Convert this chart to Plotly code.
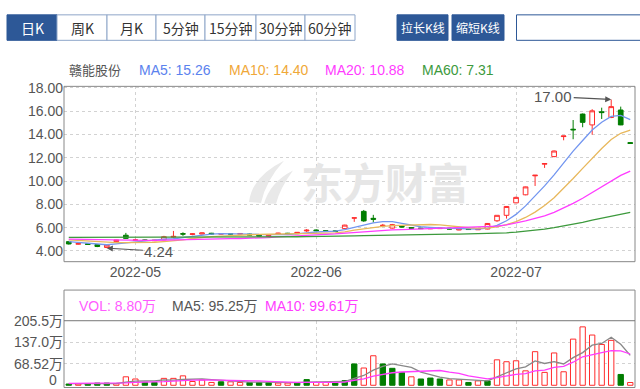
import plotly.graph_objects as go

# ---------------- data ----------------
dates = ["2022-04-21","2022-04-22","2022-04-25","2022-04-26","2022-04-27","2022-04-28","2022-04-29",
         "2022-05-05","2022-05-06","2022-05-09","2022-05-10","2022-05-11","2022-05-12","2022-05-13",
         "2022-05-16","2022-05-17","2022-05-18","2022-05-19","2022-05-20","2022-05-23","2022-05-24",
         "2022-05-25","2022-05-26","2022-05-27","2022-05-30","2022-05-31",
         "2022-06-01","2022-06-02","2022-06-06","2022-06-07","2022-06-08","2022-06-09","2022-06-10",
         "2022-06-13","2022-06-14","2022-06-15","2022-06-16","2022-06-17","2022-06-20","2022-06-21",
         "2022-06-22","2022-06-23","2022-06-24","2022-06-27","2022-06-28","2022-06-29","2022-06-30",
         "2022-07-01","2022-07-04","2022-07-05","2022-07-06","2022-07-07","2022-07-08","2022-07-11",
         "2022-07-12","2022-07-13","2022-07-14","2022-07-15","2022-07-18","2022-07-19"]

opens = [4.80, 4.58, 4.62, 4.55, 4.30, 4.80, 5.35, 4.90, 4.95, 4.88,
         4.95, 5.18, 5.48, 5.42, 5.45, 5.52, 5.45, 5.48, 5.44, 5.45,
         5.36, 5.26, 5.48, 5.52, 5.48, 5.72, 5.80, 5.74, 5.72, 5.92,
         6.82, 7.40, 6.80, 6.18, 5.96, 6.12, 6.00, 5.96, 5.90, 5.92,
         5.95, 5.80, 5.88, 5.82, 5.88, 6.59, 7.06, 8.13, 8.82, 10.45,
         11.45, 12.10, 13.82, 14.45, 15.75, 14.82, 15.95, 15.46, 16.10, 13.30]
highs = [4.86, 4.70, 4.64, 4.57, 4.55, 4.97, 5.55, 5.05, 4.98, 4.95,
         5.30, 5.72, 5.60, 5.52, 5.58, 5.55, 5.52, 5.50, 5.52, 5.48,
         5.38, 5.36, 5.56, 5.55, 5.62, 5.88, 5.85, 5.78, 5.76, 6.25,
         6.84, 7.52, 7.10, 6.32, 6.32, 6.15, 6.02, 5.98, 5.98, 5.98,
         5.96, 5.90, 5.90, 5.88, 6.40, 7.06, 7.85, 8.66, 9.52, 10.52,
         11.52, 12.62, 13.88, 15.24, 15.80, 16.17, 16.30, 17.00, 16.39, 13.35]
lows = [4.55, 4.55, 4.52, 4.33, 4.24, 4.75, 5.05, 4.85, 4.85, 4.85,
        4.92, 5.12, 5.30, 5.35, 5.42, 5.42, 5.42, 5.40, 5.42, 5.32,
        5.24, 5.22, 5.40, 5.45, 5.45, 5.62, 5.70, 5.65, 5.64, 5.88,
        6.50, 6.50, 6.45, 6.16, 5.92, 6.02, 5.90, 5.88, 5.88, 5.90,
        5.85, 5.78, 5.80, 5.80, 5.86, 6.50, 6.78, 8.10, 8.78, 9.58,
        11.13, 12.05, 13.50, 13.59, 14.62, 13.98, 15.33, 15.40, 14.80, 13.20]
closes = [4.60, 4.63, 4.56, 4.38, 4.50, 4.95, 5.08, 4.95, 4.90, 4.92,
          5.22, 5.25, 5.45, 5.47, 5.55, 5.46, 5.48, 5.45, 5.50, 5.36,
          5.28, 5.33, 5.52, 5.49, 5.60, 5.78, 5.74, 5.70, 5.68, 6.22,
          6.84, 6.58, 6.72, 6.20, 6.26, 6.06, 5.95, 5.92, 5.95, 5.96,
          5.88, 5.89, 5.84, 5.86, 6.36, 7.06, 7.82, 8.60, 9.50, 10.50,
          11.50, 12.58, 13.87, 14.40, 15.04, 16.03, 15.88, 16.39, 14.82, 13.23]

# moving-average values before a full window is available
ma5_head = [4.80, 4.72, 4.66, 4.58]
ma10_head = [4.95, 4.90, 4.85, 4.80, 4.74, 4.72, 4.72, 4.72, 4.73]
ma20_head = [5.02, 5.00, 4.98, 4.96, 4.93, 4.92, 4.92, 4.91, 4.91, 4.91,
             4.92, 4.93, 4.95, 4.97, 4.99, 5.01, 5.03, 5.05, 5.07]
ma60 = [5.16, 5.16, 5.16, 5.16, 5.16, 5.16, 5.16, 5.16, 5.16, 5.16,
        5.17, 5.17, 5.17, 5.18, 5.18, 5.18, 5.19, 5.19, 5.19, 5.20,
        5.20, 5.21, 5.21, 5.22, 5.22, 5.23, 5.23, 5.24, 5.25, 5.27,
        5.29, 5.32, 5.34, 5.36, 5.37, 5.39, 5.40, 5.41, 5.42, 5.43,
        5.44, 5.45, 5.46, 5.47, 5.49, 5.52, 5.56, 5.61, 5.68, 5.77,
        5.88, 6.00, 6.14, 6.30, 6.46, 6.64, 6.82, 7.01, 7.17, 7.31]

volumes = [4, 4, 5, 7, 7, 5, 27, 20, 9, 9,
           22, 22, 30, 12, 17, 9, 11, 11, 9, 9,
           9, 9, 7, 7, 9, 18, 9, 9, 9, 15,
           68, 55, 94, 68, 54, 41, 27, 20, 23, 20,
           17, 17, 9, 14, 14, 81, 75, 78, 46, 107,
           41, 102.9, 43, 147, 186, 160, 130, 143, 34.45, 8.80]   # 万
vol_dir = "duddduuuddu uuuuuduudd duudduuddd uuddduddduu duduuuuuuu uuuuuududd".replace(" ", "")
vol_ma5_head = [5, 5, 5, 5.5]
vol_ma10_head = [6, 6, 6, 6, 6, 6, 7.5, 9, 9.5]

price_ticks = [4, 6, 8, 10, 12, 14, 16, 18]
price_ticktext = ["4.00", "6.00", "8.00", "10.00", "12.00", "14.00", "16.00", "18.00"]
month_ticks = ["2022-05-05", "2022-06-01", "2022-07-01"]
month_labels = ["2022-05", "2022-06", "2022-07"]
vol_ticks = [0, 68.52, 137.04, 205.56]
vol_ticktext = ["0", "68.52万", "137.0万", "205.5万"]

stock_name = "赣能股份"
legend_price = [("MA5: 15.26", "#5b82ee"), ("MA10: 14.40", "#f0a838"),
                ("MA20: 10.88", "#ff3cff"), ("MA60: 7.31", "#3d9a3d")]
legend_vol = [("VOL: 8.80万", "#ff5cff"), ("MA5: 95.25万", "#555555"), ("MA10: 99.61万", "#ff3cff")]
toolbar_left = ["日K", "周K", "月K", "5分钟", "15分钟", "30分钟", "60分钟"]
toolbar_right = ["拉长K线", "缩短K线"]
max_label, min_label = "17.00", "4.24"


def moving_average(vals, n, head):
    out = list(head)
    for i in range(len(head), len(vals)):
        out.append(sum(vals[i - n + 1:i + 1]) / n)
    return out


ma5 = moving_average(closes, 5, ma5_head)
ma10 = moving_average(closes, 10, ma10_head)
ma20 = moving_average(closes, 20, ma20_head)
vma5 = moving_average(volumes, 5, vol_ma5_head)
vma10 = moving_average(volumes, 10, vol_ma10_head)

# ---------------- styling ----------------
W, H = 640, 389
RED, GREEN = "#ff2b2b", "#007d00"
FONT = "Liberation Sans, Arial, Noto Sans CJK SC, sans-serif"
CJK = "Noto Sans CJK SC, sans-serif"


def px(x):
    return x / W


def py(y):
    return 1 - y / H


X0, X1 = 64, 635
P_TOP, P_BOT = 80, 259
V_TOP, V_BOT = 319.3, 386
V_MIN, V_MAX = -2.5, 205.56

fig = go.Figure()

fig.add_trace(go.Candlestick(
    x=dates, open=opens, high=highs, low=lows, close=closes,
    increasing=dict(line=dict(color=RED, width=1), fillcolor="white"),
    decreasing=dict(line=dict(color=GREEN, width=1), fillcolor=GREEN),
    whiskerwidth=0, xaxis="x", yaxis="y", hoverinfo="skip"))

for vals, col in [(ma5, "#7396f0"), (ma10, "#e8b85c"), (ma20, "#ff3cff"), (ma60, "#3d9a3d")]:
    fig.add_trace(go.Scatter(x=dates, y=vals, mode="lines", line=dict(color=col, width=1.3),
                             xaxis="x", yaxis="y", hoverinfo="skip"))

fill = ["white" if d == "u" else GREEN for d in vol_dir]
edge = [RED if d == "u" else GREEN for d in vol_dir]
fig.add_trace(go.Bar(x=dates, y=volumes, width=0.56,
                     marker=dict(color=fill, line=dict(color=edge, width=1)),
                     xaxis="x2", yaxis="y2", hoverinfo="skip"))
fig.add_trace(go.Scatter(x=dates, y=vma5, mode="lines", line=dict(color="#888888", width=1.3),
                         xaxis="x2", yaxis="y2", hoverinfo="skip"))
fig.add_trace(go.Scatter(x=dates, y=vma10, mode="lines", line=dict(color="#ff3cff", width=1.3),
                         xaxis="x2", yaxis="y2", hoverinfo="skip"))

grid = dict(showgrid=True, gridcolor="#d2d2d2", griddash="3px,3px", gridwidth=1,
            zeroline=False, showline=False, ticks="")

fig.update_layout(
    width=W, height=H, margin=dict(l=0, r=0, t=0, b=0),
    paper_bgcolor="white", plot_bgcolor="white", showlegend=False, hovermode=False,
    font=dict(family=FONT, size=14, color="#555"),
    xaxis=dict(domain=[px(X0), px(X1)], type="category", range=[-0.5, len(dates) - 0.5],
               tickmode="array", tickvals=month_ticks, ticktext=month_labels,
               rangeslider=dict(visible=False), anchor="y",
               tickfont=dict(size=14, color="#555"), **grid),
    yaxis=dict(domain=[py(P_BOT), py(P_TOP)], range=[3.08, 18.13], anchor="x",
               tickmode="array", tickvals=price_ticks, ticktext=price_ticktext,
               tickfont=dict(size=14, color="#555"), **grid),
    xaxis2=dict(domain=[px(X0), px(X1)], type="category", range=[-0.5, len(dates) - 0.5],
                matches="x", anchor="y2", tickmode="array", tickvals=month_ticks,
                showticklabels=False, **grid),
    yaxis2=dict(domain=[py(V_BOT), py(V_TOP)], range=[V_MIN, V_MAX], anchor="x2",
                tickmode="array", tickvals=vol_ticks[1:], ticktext=vol_ticktext[1:],
                tickfont=dict(size=14, color="#555"), **grid),
)

shapes = []
# plot frames
shapes.append(dict(type="rect", xref="paper", yref="paper", x0=px(X0), x1=px(X1),
                   y0=py(P_BOT), y1=py(P_TOP), line=dict(color="#888", width=1)))
shapes.append(dict(type="rect", xref="paper", yref="paper", x0=px(X0), x1=px(X1),
                   y0=py(387.5), y1=py(288), line=dict(color="#888", width=1)))
shapes.append(dict(type="line", xref="paper", yref="paper", x0=px(X0), x1=px(X1),
                   y0=py(V_TOP), y1=py(V_TOP), line=dict(color="#777", width=1)))


def pth(points):
    s = ""
    for cmd, pts in points:
        s += cmd + " " + " ".join(f"{px(a):.4f},{py(b):.4f}" for a, b in pts) + " "
    return s + "Z"


# watermark logo (light swoosh)
shapes.append(dict(type="path", xref="paper", yref="paper", layer="below",
                   path=pth([("M", [(249, 198)]), ("Q", [(252, 172), (284, 156)]),
                             ("Q", [(266, 176), (261, 199)])]),
                   fillcolor="#e9e9e9", line=dict(width=0)))
shapes.append(dict(type="path", xref="paper", yref="paper", layer="below",
                   path=pth([("M", [(264, 200)]), ("Q", [(270, 178), (293, 166)]),
                             ("Q", [(280, 184), (276, 200)])]),
                   fillcolor="#e9e9e9", line=dict(width=0)))

annotations = []
annotations.append(dict(xref="paper", yref="paper", x=px(385), y=py(176), text="<b>东方财富</b>",
                        showarrow=False, font=dict(family=CJK, size=42, color="#e6e6e6"),
                        xanchor="center", yanchor="middle"))

# zero label of the volume axis (kept as text so it is not dropped at the figure edge)
annotations.append(dict(xref="paper", yref="y2", x=px(59), y=vol_ticks[0], text=vol_ticktext[0],
                        showarrow=False, xanchor="right", yanchor="middle", yshift=5,
                        font=dict(family=FONT, size=14, color="#555")))

# toolbar
edges = [7, 57, 107, 156, 205, 256, 305, 355]
for i, lab in enumerate(toolbar_left):
    sel = i == 0
    shapes.append(dict(type="rect", xref="paper", yref="paper", x0=px(edges[i]), x1=px(edges[i + 1]),
                       y0=py(33), y1=py(7), fillcolor="#2d5897" if sel else "white",
                       line=dict(color="#2d5897" if sel else "#8ea6c9", width=1)))
    annotations.append(dict(xref="paper", yref="paper", x=px((edges[i] + edges[i + 1]) / 2), y=py(20),
                            text=lab, showarrow=False, xanchor="center", yanchor="middle",
                            font=dict(family=CJK, size=14, color="white" if sel else "#333")))
for (a, b), lab in zip([(397, 448), (452, 504)], toolbar_right):
    shapes.append(dict(type="rect", xref="paper", yref="paper", x0=px(a), x1=px(b),
                       y0=py(33), y1=py(7), fillcolor="#2d5897", line=dict(color="#2d5897", width=1)))
    annotations.append(dict(xref="paper", yref="paper", x=px((a + b) / 2), y=py(20), text=lab,
                            showarrow=False, xanchor="center", yanchor="middle",
                            font=dict(family=CJK, size=12, color="white")))
shapes.append(dict(type="rect", xref="paper", yref="paper", x0=px(516.5), x1=px(680),
                   y0=py(33), y1=py(7), fillcolor="white", line=dict(color="#2d5897", width=1)))

# price legend
annotations.append(dict(xref="paper", yref="paper", x=px(67), y=py(63), text=stock_name,
                        showarrow=False, xanchor="left", yanchor="middle",
                        font=dict(family=CJK, size=13, color="#555")))
for (txt, col), xl in zip(legend_price, [137, 227, 323, 420]):
    annotations.append(dict(xref="paper", yref="paper", x=px(xl), y=py(63), text=txt,
                            showarrow=False, xanchor="left", yanchor="middle",
                            font=dict(family=FONT, size=14, color=col)))
# volume legend
for (txt, col), xl in zip(legend_vol, [77, 170, 263]):
    annotations.append(dict(xref="paper", yref="paper", x=px(xl), y=py(304), text=txt,
                            showarrow=False, xanchor="left", yanchor="middle",
                            font=dict(family=FONT, size=14, color=col)))

# max / min markers
imax = highs.index(max(highs))
imin = lows.index(min(lows))
annotations.append(dict(x=dates[imax], y=highs[imax], xref="x", yref="y", text=max_label,
                        showarrow=True, ax=-58, ay=-3, arrowhead=2, arrowsize=1, arrowwidth=1.2,
                        arrowcolor="#555", font=dict(family=FONT, size=15, color="#555")))
annotations.append(dict(x=dates[imin], y=lows[imin], xref="x", yref="y", text=min_label,
                        showarrow=True, ax=52, ay=3, arrowhead=2, arrowsize=1, arrowwidth=1.2,
                        arrowcolor="#555", font=dict(family=FONT, size=15, color="#555")))

fig.update_layout(shapes=shapes, annotations=annotations)
fig.write_html("out.html", config={"displayModeBar": False},
               post_script="document.documentElement.style.margin='0';"
                           "document.body.style.margin='0';document.body.style.padding='0';"
                           "document.body.style.overflow='hidden';")
